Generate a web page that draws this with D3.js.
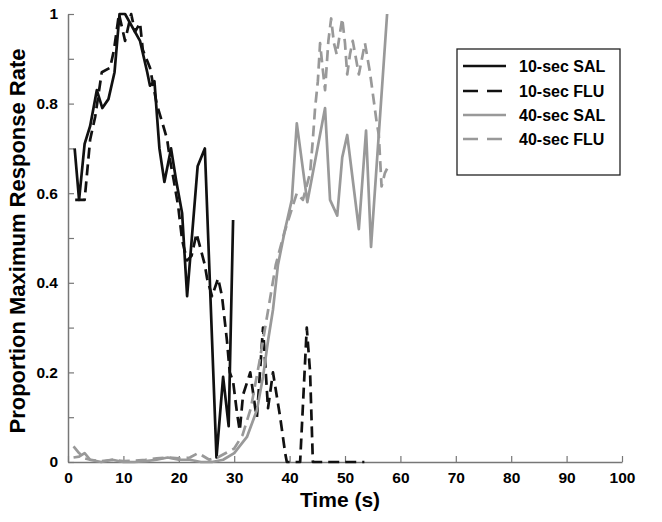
<!DOCTYPE html>
<html><head><meta charset="utf-8">
<script src="https://cdn.jsdelivr.net/npm/d3@7"></script>
<style>body{margin:0;background:#fff}svg text{font-family:"Liberation Sans",Arial,sans-serif;font-weight:bold}</style>
</head><body><svg id="c" width="662" height="522"></svg>
<script>
const xTicks = [0,10,20,30,40,50,60,70,80,90,100];
const yTicks = [0,0.1,0.2,0.3,0.4,0.5,0.6,0.7,0.8,0.9,1];
const yLabels = ["0","","0.2","","0.4","","0.6","","0.8","","1"];
const seriesNames = ["10-sec SAL","10-sec FLU","40-sec SAL","40-sec FLU"];

const sal10X = [1.2,2,3,4,5.2,6.2,7.3,8.4,9.3,10.3,13,14.3,14.8,15.6,16.5,17.4,18.6,19.5,20.6,21.5,23.4,24.7,26.8,28,29,29.8];
const sal10Y = [0.70,0.585,0.71,0.75,0.83,0.79,0.81,0.87,1.0,1.0,0.94,0.87,0.84,0.85,0.70,0.625,0.70,0.63,0.555,0.37,0.66,0.70,0.01,0.19,0.08,0.54];

const flu10X = [1.3,3,4,4.9,6.1,7.6,8.3,9.2,10.3,11.4,12.1,13,13.5,14.8,16,17.2,17.9,18.4,19,19.9,20.6,21.5,22.3,23.2,24.7,25.1,26,27.1,27.8,28.7,29.2,29.8,30.5,31,31.6,32.9,33.8,34.1,35.2,35.6,36.1,37,38.3,39.2,39.5,41.9,43.1,43.7,44.2,53.5];
const flu10Y = [0.585,0.585,0.72,0.77,0.87,0.88,0.92,1.0,0.94,1.0,0.96,0.98,0.92,0.88,0.80,0.75,0.72,0.675,0.635,0.57,0.495,0.45,0.46,0.51,0.44,0.41,0.37,0.41,0.37,0.27,0.20,0.18,0.11,0.07,0.15,0.20,0.12,0.10,0.30,0.22,0.12,0.20,0.10,0.02,0,0,0.30,0.20,0,0];

const sal40X = [1,2,3,4,6,8,10,12,14,16,18,20,22,24,26,28,30,32.3,34.1,35.2,36.1,37,37.9,39.2,40.4,41.3,43.2,46.4,47.3,48.6,49.5,50.4,52.5,53.8,54.7,57.6];
const sal40Y = [0.01,0.012,0.02,0.005,0,0.005,0,0,0.002,0.005,0.01,0.005,0.005,0,0,0.005,0.02,0.056,0.116,0.19,0.27,0.34,0.44,0.52,0.585,0.756,0.58,0.79,0.585,0.55,0.68,0.73,0.52,0.74,0.48,1.0];

const flu40X = [1,2,3,4,6,8,10,12,14,16,18,20,22,23.5,25.5,27,28.5,30,31.5,33,34.5,36,37.5,39,41.3,42.4,43.7,44.2,44.6,45.1,45.5,46,46.4,47,47.5,48,48.5,49.5,50,50.4,50.9,51.4,52.5,53.6,54.5,55.7,56.1,56.6,57.2,57.6];
const flu40Y = [0.035,0.02,0.008,0.005,0.002,0.005,0.002,0.003,0.005,0.008,0.01,0.008,0.01,0.02,0.005,0.01,0.02,0.03,0.06,0.12,0.22,0.33,0.44,0.51,0.60,0.585,0.645,0.72,0.79,0.85,0.935,0.875,0.83,0.94,0.99,0.935,0.91,0.99,0.935,0.865,0.91,0.94,0.865,0.935,0.87,0.76,0.73,0.615,0.645,0.655];

const svg = d3.select("#c");
const x = d3.scaleLinear().domain([0,100]).range([68,622]);
const y = d3.scaleLinear().domain([0,1]).range([462,14]);

const styles = [
  {color:"#111", dash:null},
  {color:"#111", dash:"11,6"},
  {color:"#999", dash:null},
  {color:"#999", dash:"11,6"}
];
const data = [[sal10X,sal10Y],[flu10X,flu10Y],[sal40X,sal40Y],[flu40X,flu40Y]];

// axes
const xAxis = d3.axisBottom(x).tickValues(xTicks).tickSizeInner(-6).tickSizeOuter(0).tickPadding(10).tickFormat(d3.format("d"));
const gx = svg.append("g").attr("transform",`translate(0,${y(0)})`).call(xAxis);
const yAxis = d3.axisLeft(y).tickValues(yTicks).tickSizeInner(-6).tickSizeOuter(0).tickPadding(10).tickFormat((d,i)=>yLabels[i]);
const gy = svg.append("g").attr("transform",`translate(${x(0)},0)`).call(yAxis);
[gx,gy].forEach(g=>{
  g.select(".domain").attr("stroke","#777").attr("stroke-width",1.5);
  g.selectAll(".tick line").attr("stroke","#777").attr("stroke-width",1.2);
  g.selectAll(".tick text").attr("fill","#000").style("font-size","15.5px").style("font-weight","bold").style("font-family","Liberation Sans, Arial, sans-serif");
});

// lines
const line = d3.line().x(d=>x(d[0])).y(d=>y(d[1]));
data.forEach((s,i)=>{
  const pts = s[0].map((v,j)=>[v,s[1][j]]);
  svg.append("path").datum(pts).attr("d",line).attr("fill","none")
    .attr("stroke",styles[i].color).attr("stroke-width",2.7)
    .attr("stroke-dasharray",styles[i].dash).attr("stroke-linejoin","round");
});

// axis titles
svg.append("text").attr("x",340).attr("y",507).attr("text-anchor","middle").style("font-size","21px").text("Time (s)");
svg.append("text").attr("transform","translate(25,241) rotate(-90)").attr("text-anchor","middle").style("font-size","22px").text("Proportion Maximum Response Rate");

// legend
const lg = svg.append("g");
lg.append("rect").attr("x",457).attr("y",49).attr("width",163).attr("height",126).attr("fill","#fff").attr("stroke","#222").attr("stroke-width",1.3);
const ly = [66,91,115,139];
seriesNames.forEach((n,i)=>{
  lg.append("line").attr("x1",463).attr("x2",506).attr("y1",ly[i]).attr("y2",ly[i])
    .attr("stroke",styles[i].color).attr("stroke-width",2.7).attr("stroke-dasharray",styles[i].dash?"15,9":null);
  lg.append("text").attr("x",519).attr("y",ly[i]+5.5).style("font-size","16px").text(n);
});
</script></body></html>
